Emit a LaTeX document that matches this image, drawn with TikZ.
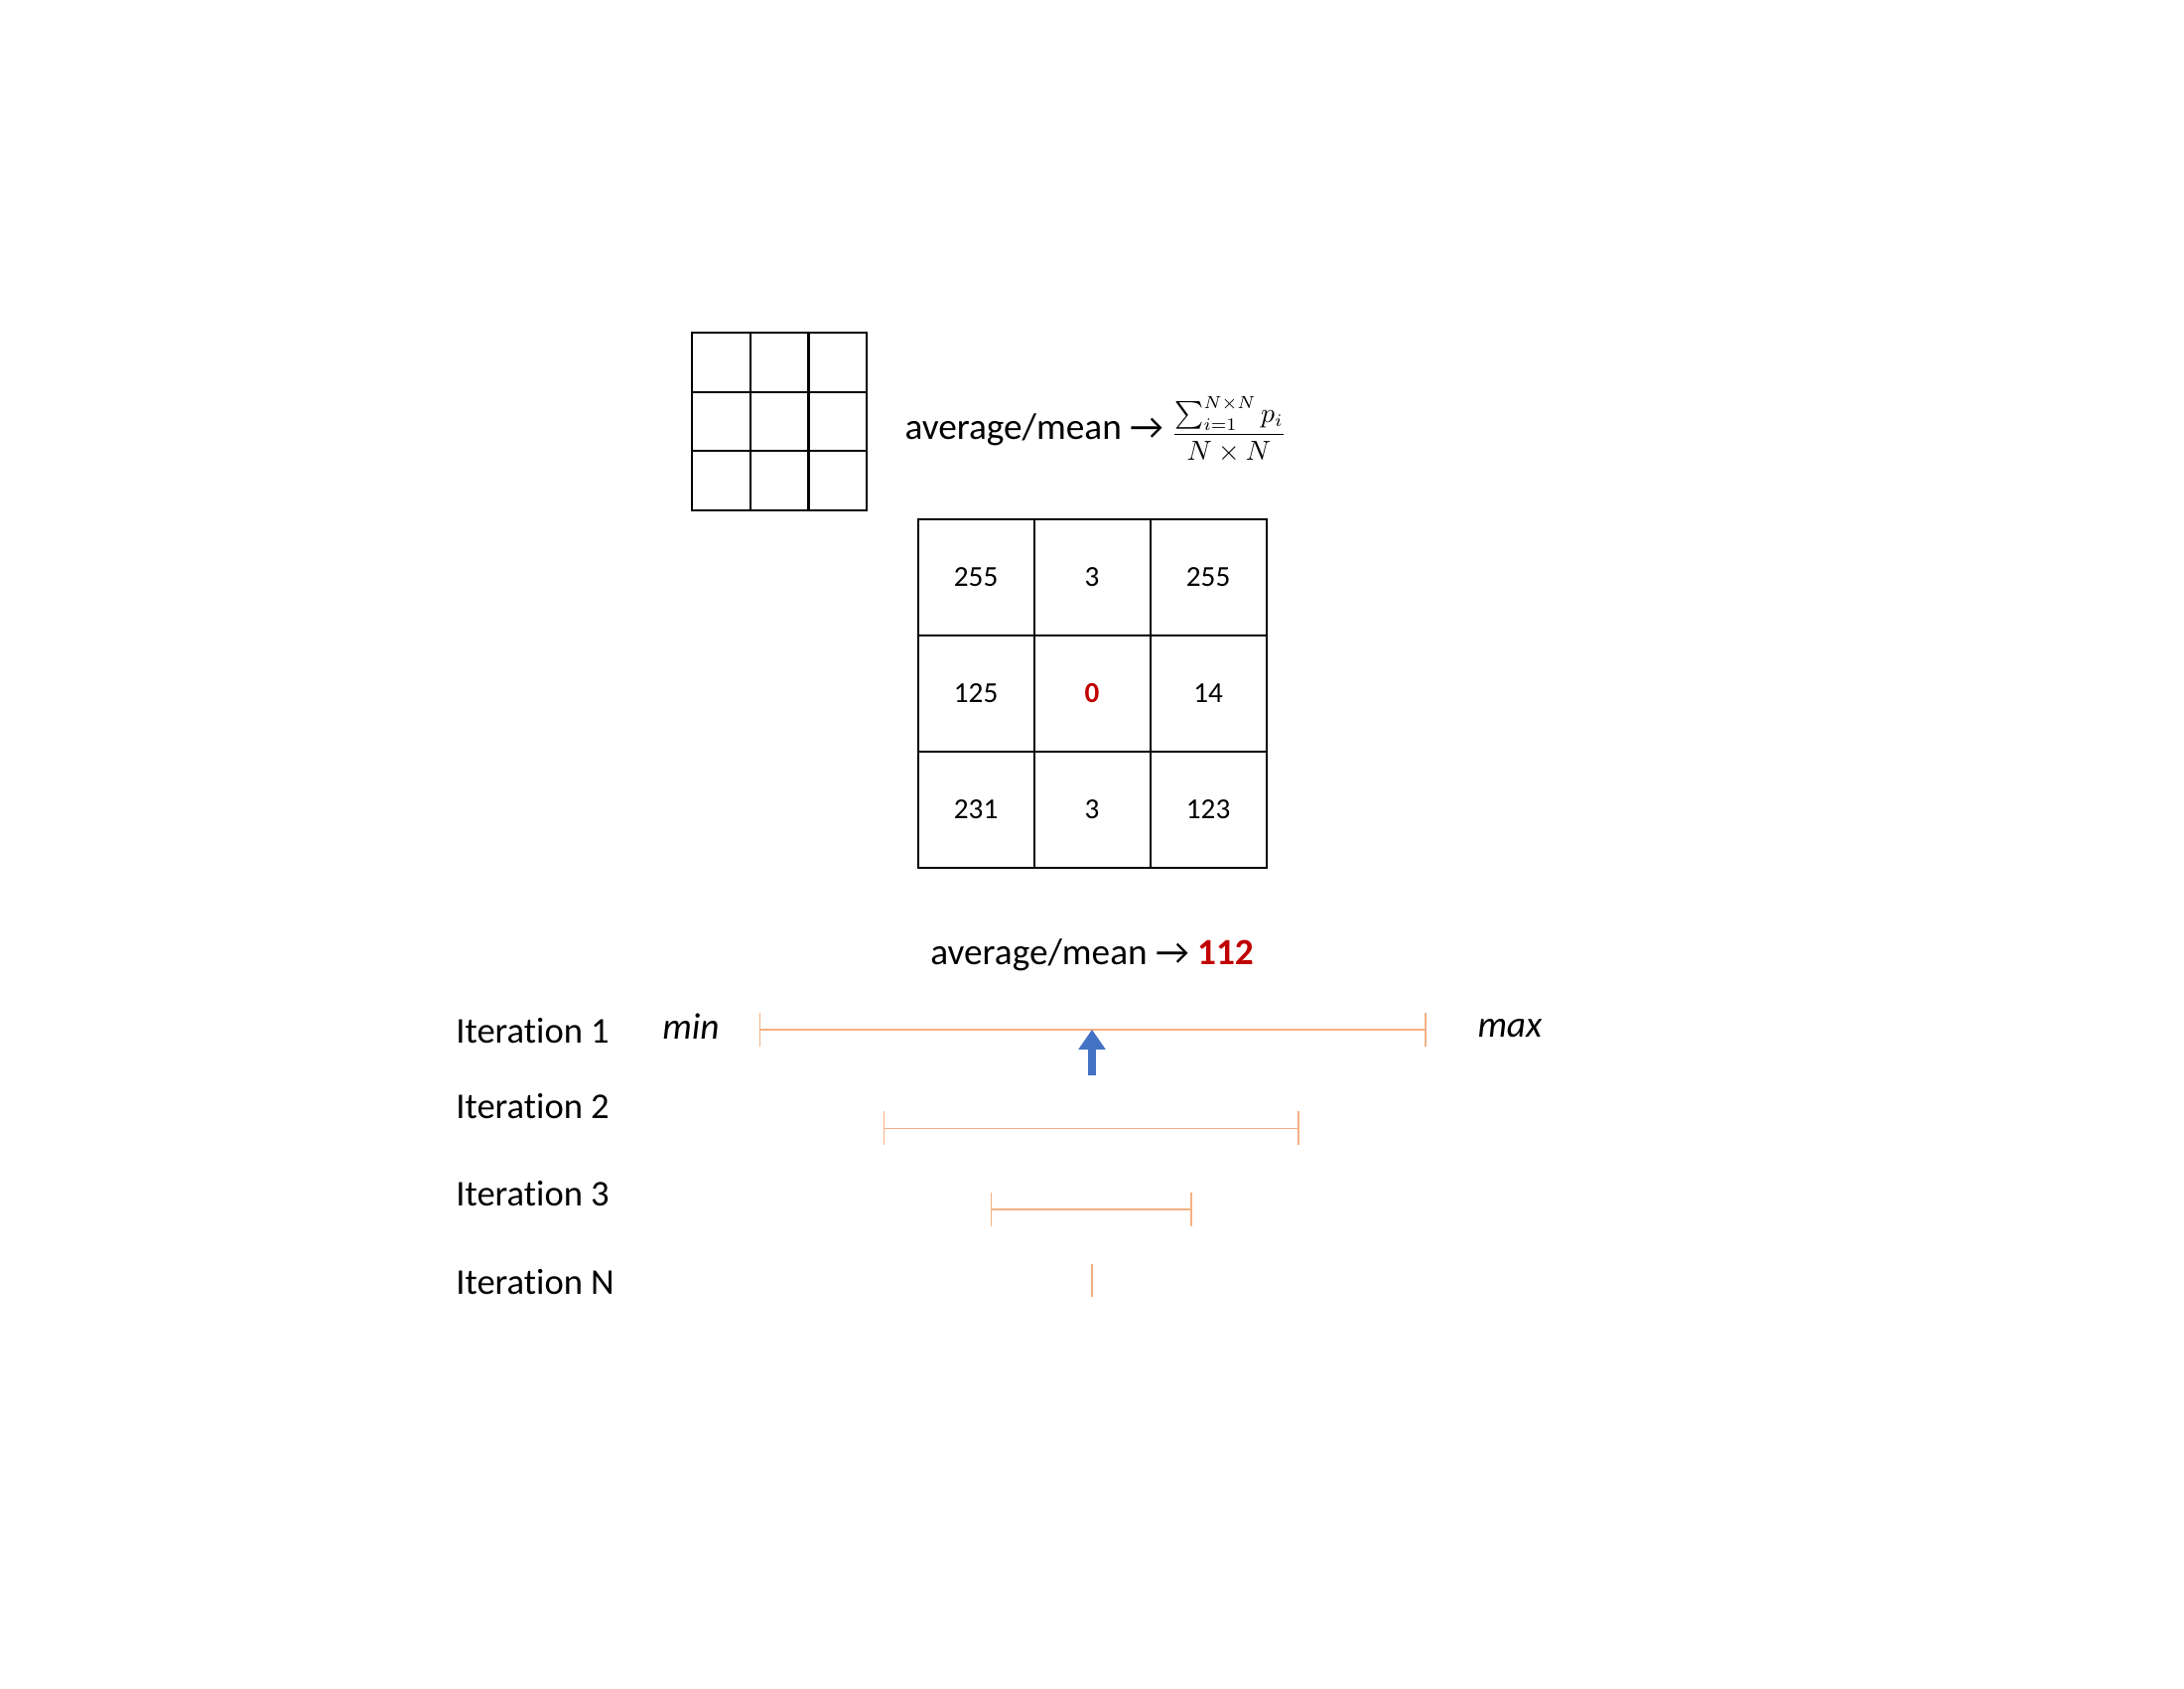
\documentclass[tikz,border=0pt]{standalone}
\usepackage{fontspec}
\setmainfont{Carlito}[Ligatures=NoCommon]
\usepackage{amsmath}
\usepackage{xcolor}
\usetikzlibrary{arrows.meta, positioning}

\definecolor{valred}{HTML}{C00000}
\definecolor{rangeorange}{HTML}{F4B183}
\definecolor{pointblue}{HTML}{4472C4}

\begin{document}
\begin{tikzpicture}[
    pixelbox/.style={rectangle, draw, line width=0.6pt, minimum width=0.587cm, minimum height=0.597cm, inner sep=0pt, outer sep=0pt},
    cellbox/.style={rectangle, draw, line width=0.6pt, minimum size=1.17cm, inner sep=0pt, outer sep=0pt, font=\fontsize{8.3pt}{9pt}\selectfont},
    meantext/.style={font=\fontsize{10.6pt}{13pt}\selectfont},
    itertext/.style={anchor=west, font=\fontsize{10.4pt}{12pt}\selectfont},
    rangebar/.style={rangeorange, line width=0.5pt, {Bar[width=0.34cm]}-{Bar[width=0.34cm]}}]
        \useasboundingbox (0,0) rectangle (22,17);

        % kernel window
        \node (s11) [pixelbox] at (7.264,13.352) {};
        \node (s12) [pixelbox, right=0pt of s11] {};
        \node (s13) [pixelbox, right=0pt of s12] {};
        \node (s21) [pixelbox, below=0pt of s11] {};
        \node (s22) [pixelbox, right=0pt of s21] {};
        \node (s23) [pixelbox, right=0pt of s22] {};
        \node (s31) [pixelbox, below=0pt of s21] {};
        \node (s32) [pixelbox, right=0pt of s31] {};
        \node (s33) [pixelbox, right=0pt of s32] {};

        \node (formula) [meantext, right=0.26cm of s23, yshift=-0.08cm] {average/mean → \raisebox{-0.02cm}{\scalebox{0.72}{$\displaystyle\frac{\sum_{i=1}^{N\times N} p_i}{N\times N}$}}};

        % pixel values
        \node (c11) [cellbox] at (9.831,11.185) {255};
        \node (c12) [cellbox, right=0pt of c11] {3};
        \node (c13) [cellbox, right=0pt of c12] {255};
        \node (c21) [cellbox, below=0pt of c11] {125};
        \node (c22) [cellbox, right=0pt of c21] {\textbf{\textcolor{valred}{0}}};
        \node (c23) [cellbox, right=0pt of c22] {14};
        \node (c31) [cellbox, below=0pt of c21] {231};
        \node (c32) [cellbox, right=0pt of c31] {3};
        \node (c33) [cellbox, right=0pt of c32] {123};

        \node (mean) [meantext, below=0.59cm of c32] {average/mean → \textbf{\textcolor{valred}{112}}};

        % search ranges
        \node (it1) [itertext] at (4.47,6.62) {Iteration 1};
        \node (it2) [itertext] at (4.47,5.86) {Iteration 2};
        \node (it3) [itertext] at (4.47,4.98) {Iteration 3};
        \node (itn) [itertext] at (4.47,4.09) {Iteration N};

        \node (min) [meantext] at (6.96,6.66) {\textit{min}};
        \node (max) [meantext] at (15.21,6.64) {\textit{max}};

        \coordinate (r1a) at (7.646,6.632);
        \coordinate (r1b) at (14.367,6.632);
        \coordinate (r1m) at (11.0,6.632);
        \coordinate (r2a) at (8.895,5.635);
        \coordinate (r2b) at (13.09,5.635);
        \coordinate (r3a) at (9.975,4.82);
        \coordinate (r3b) at (12.01,4.82);
        \coordinate (rna) at (11.0,4.275);
        \coordinate (rnb) at (11.0,3.94);
        \coordinate (foot) at (11.0,6.17);

        \draw[rangebar] (r1a) -- (r1b);
        \draw[rangebar] (r2a) -- (r2b);
        \draw[rangebar] (r3a) -- (r3b);
        \draw[rangeorange, line width=0.5pt] (rna) -- (rnb);
        \draw[-{Triangle[width=0.26cm, length=0.2cm]}, pointblue, line width=0.08cm] (foot) -- (r1m);
    \end{tikzpicture}
\end{document}
